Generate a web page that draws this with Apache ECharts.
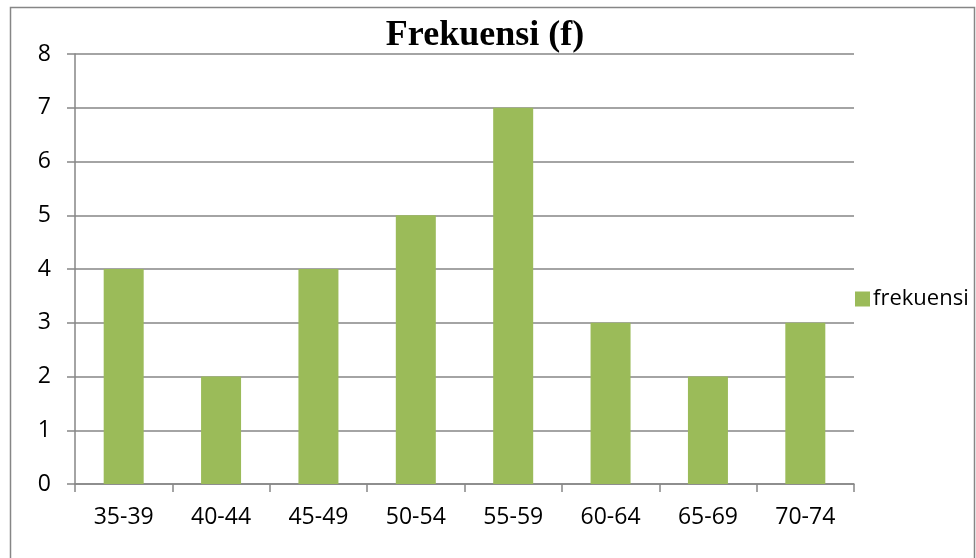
<!DOCTYPE html>
<html>
<head>
<meta charset="utf-8">
<script src="https://cdn.jsdelivr.net/npm/echarts@6/dist/echarts.min.js"></script>
<style>
  html, body { margin: 0; padding: 0; background: #fff; }
  #main { width: 976px; height: 558px; }
</style>
</head>
<body>
<div id="main"></div>
<script>
  // 데이터
  var kelas = ['35-39', '40-44', '45-49', '50-54', '55-59', '60-64', '65-69', '70-74'];
  var frekuensi = [4, 2, 4, 5, 7, 3, 2, 3];

  var myChart = echarts.init(document.getElementById('main'));

  var option = {
    backgroundColor: '#fff',
    animation: false,
    title: {
      text: 'Frekuensi (f)',
      left: 480,
      textAlign: 'center',
      top: 13,
      textStyle: {
        fontFamily: 'Liberation Serif',
        fontWeight: 'bold',
        fontSize: 36,
        color: '#000'
      }
    },
    legend: {
      orient: 'vertical',
      left: 850,
      top: 283,
      icon: 'rect',
      itemWidth: 15,
      itemHeight: 15,
      itemGap: 6,
      textStyle: { fontFamily: 'Open Sans', fontSize: 22, color: '#000', padding: [0, 0, 0, -2] },
      data: ['frekuensi']
    },
    grid: { left: 75, right: 122, top: 54, bottom: 74 },
    xAxis: {
      type: 'category',
      data: kelas,
      axisLine: { lineStyle: { color: '#868686', width: 1.5 } },
      axisTick: { show: true, length: 8, lineStyle: { color: '#868686', width: 1.5 } },
      axisLabel: { fontFamily: 'Open Sans', fontSize: 23, color: '#000', margin: 22 }
    },
    yAxis: {
      type: 'value',
      min: 0,
      max: 8,
      interval: 1,
      axisLine: { show: true, lineStyle: { color: '#868686', width: 1.5 } },
      axisTick: { show: true, length: 8, lineStyle: { color: '#868686', width: 1.5 } },
      axisLabel: { fontFamily: 'Open Sans', fontSize: 23, color: '#000', margin: 24 },
      splitLine: { lineStyle: { color: '#868686', width: 1.5 } }
    },
    series: [
      {
        name: 'frekuensi',
        type: 'bar',
        barWidth: 40,
        itemStyle: { color: '#9bbb59' },
        data: frekuensi
      }
    ],
    graphic: [
      {
        type: 'rect',
        shape: { x: 10.5, y: 7.5, width: 964, height: 560 },
        style: { fill: 'none', stroke: '#868686', lineWidth: 1.5 },
        silent: true
      }
    ]
  };

  myChart.setOption(option);
</script>
</body>
</html>
